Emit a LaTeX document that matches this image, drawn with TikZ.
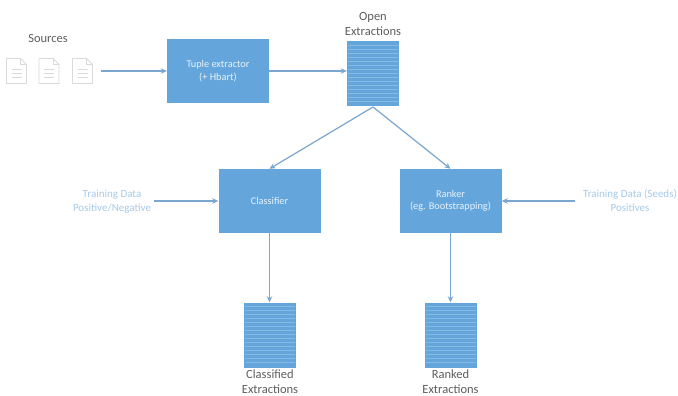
\documentclass[tikz,border=0pt]{standalone}
\usepackage{fontspec}
\setmainfont{Carlito}
\usetikzlibrary{arrows.meta,calc}
\definecolor{boxblue}{HTML}{64A6DB}
\definecolor{linkblue}{HTML}{7AA6CF}
\definecolor{lightlabel}{HTML}{A6CBEA}
\definecolor{inktext}{HTML}{5E5E5E}
\definecolor{docline}{HTML}{DADADA}
\tikzset{
  x=1pt,y=-1pt,
  procbox/.style={draw=none,fill=boxblue,minimum width=102pt,minimum height=64pt,inner sep=0pt,align=center,text=white!85!boxblue,font=\fontsize{10.3}{12.5}\selectfont},
  storebox/.style={draw=none,fill=boxblue,minimum width=52pt,minimum height=65pt,inner sep=0pt},
  link/.style={draw=linkblue,line width=1.2pt,-{Stealth[length=6pt,width=5.5pt]}},
  caption/.style={align=center,text=inktext,font=\fontsize{12.5}{15}\selectfont,inner sep=0pt},
  traintext/.style={align=center,text=lightlabel,font=\fontsize{11}{14}\selectfont,inner sep=0pt},
  doc/.pic={
    \draw[docline,line width=.8pt,line join=round] (-10,-12.5)--(4,-12.5)--(10,-6.5)--(10,12.5)--(-10,12.5)--cycle;
    \draw[docline,line width=.5pt] (4,-12.5)--(4,-6.5)--(10,-6.5);
    \foreach \yy in {-2,2,6}{\draw[docline,line width=.7pt] (-5,\yy)--(5,\yy);}
  }
}
\newcommand{\storelines}[1]{%
  \foreach \k in {1,...,15}{%
    \draw[white!22!boxblue,line width=.6pt] ($(#1.north west)+(1,4*\k)$)--($(#1.north east)+(-1,4*\k)$);}%
}
\begin{document}
\begin{tikzpicture}
\useasboundingbox (0,0) rectangle (678,396);
\fill[white] (0,0) rectangle (678,396);
% nodes
\node[procbox] (tuple) at (218,71) {Tuple extractor\\(+ Hbart)};
\node[storebox] (open) at (373,74) {};
\node[procbox] (classifier) at (269.5,201) {Classifier};
\node[procbox] (ranker) at (450.5,201) {Ranker\\(eg. Bootstrapping)};
\node[storebox] (classified) at (270,335) {};
\node[storebox] (ranked) at (450.5,335) {};
\storelines{open}
\storelines{classified}
\storelines{ranked}
% captions
\node[caption] (srclabel) at (48,38) {Sources};
\node[caption] (openlabel) at (373,24) {Open\\Extractions};
\node[caption] (classlabel) at (270,382) {Classified\\Extractions};
\node[caption] (ranklabel) at (450.5,382) {Ranked\\Extractions};
\node[traintext] (trainleft) at (112,201.5) {Training Data\\Positive/Negative};
\node[traintext] (trainright) at (630,201) {Training Data (Seeds)\\Positives};
% source documents
\path (16.5,71) pic {doc};
\path (49,71) pic {doc};
\path (82.5,71) pic {doc};
\coordinate (srcout) at (101,71);
\coordinate (openapex) at (373,107);
\coordinate (leftstart) at (154,201);
\coordinate (rightstart) at (575,201);
% connectors
\draw[link] (srcout) -- (tuple.west);
\draw[link] (tuple.east) -- (open.west |- tuple.east);
\draw[link] (openapex) -- (classifier.north);
\draw[link] (openapex) -- (ranker.north);
\draw[link] (leftstart) -- (classifier.west);
\draw[link] (rightstart) -- (ranker.east);
\draw[link] (classifier.south) -- (classifier.south |- classified.north);
\draw[link] (ranker.south) -- (ranker.south |- ranked.north);
\end{tikzpicture}
\end{document}
